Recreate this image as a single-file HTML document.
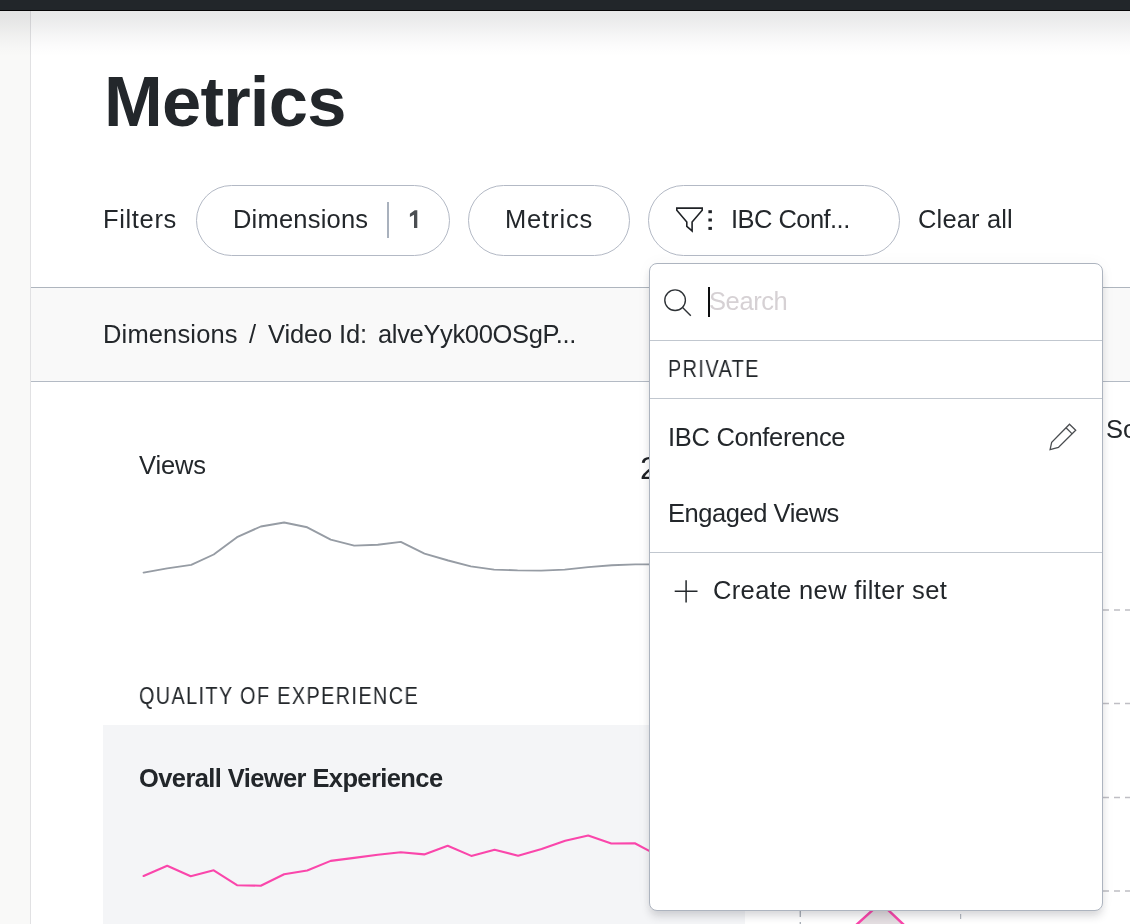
<!DOCTYPE html>
<html lang="en">
<head>
<meta charset="utf-8">
<title>Metrics</title>
<style>
  html, body { margin: 0; padding: 0; }
  html { overflow: hidden; background: #ffffff; }
  body {
    width: 1130px; height: 924px; overflow: hidden; position: relative;
    background: #ffffff;
    font-family: "Liberation Sans", sans-serif;
    color: #23272b;
  }
  .abs { position: absolute; }
  .t { position: absolute; white-space: nowrap; line-height: 1; will-change: transform; -webkit-font-smoothing: antialiased; }

  /* chrome */
  #topbar { left: 0; top: 0; width: 1130px; height: 10px; background: #22262a; }
  #topline { left: 0; top: 10px; width: 1130px; height: 1px; background: #050506; }
  #topshadow { left: 0; top: 11px; width: 1130px; height: 46px;
    background: linear-gradient(to bottom, rgba(10,14,20,0.095) 0%, rgba(10,14,20,0.088) 14%, rgba(10,14,20,0.062) 34%, rgba(10,14,20,0.034) 55%, rgba(10,14,20,0.012) 78%, rgba(10,14,20,0) 100%); }
  #gutter { left: 0; top: 11px; width: 30px; height: 913px; background: #f9f9f8; border-right: 1px solid #e1e1e3; }

  /* title */
  #title { font-weight: bold; color: #23272b; }

  /* filter row */
  .pill { position: absolute; top: 185px; height: 69px; border: 1px solid #b3b9c5; border-radius: 36px; background: #fff; }
  #pill1 { left: 196px; width: 252px; }
  #pill2 { left: 468px; width: 160px; }
  #pill3 { left: 648px; width: 250px; }
  .f25 { font-size: 25px; }
  #divider { left: 387px; top: 202px; width: 2px; height: 36px; background: #a9b1bd; }

  /* band */
  #band { left: 31px; top: 287px; width: 1099px; height: 93px; background: #f9f9f9;
    border-top: 1px solid #aeb5be; border-bottom: 1px solid #b3bac4; }

  /* QoE card */
  #card { left: 103px; top: 725px; width: 642px; height: 199px; background: #f4f5f7; }

  /* dropdown */
  #dd { left: 649px; top: 263px; width: 454px; height: 648px; background: #fff;
    border: 1px solid #adb4bf; border-radius: 8px; box-sizing: border-box;
    box-shadow: 0 6px 9px -1px rgba(30,32,40,0.17), 0 0 16px rgba(30,35,45,0.035); }
  .ddline { position: absolute; left: 650px; width: 452px; height: 1px; background: #c1c7cf; }
</style>
</head>
<body>

<!-- right-hand panel behind dropdown -->
<div class="abs" id="band"></div>

<div class="abs" id="gutter"></div>
<div class="abs" id="topshadow"></div>
<div class="abs" id="topbar"></div>
<div class="abs" id="topline"></div>

<div class="t" id="title" style="left:103.6px; top:67.4px; font-size:70.5px; letter-spacing:-0.75px;">Metrics</div>

<!-- filters row -->
<div class="t f25" id="lblFilters" style="left:102.9px; top:207.2px; font-size:25.5px; letter-spacing:0.65px;">Filters</div>
<div class="pill" id="pill1"></div>
<div class="t f25" id="lblDim" style="left:233.4px; top:207.2px; font-size:25.5px; letter-spacing:0.20px;">Dimensions</div>
<div class="abs" id="divider"></div>
<svg class="abs" id="lblOne" style="left:405px; top:205px;" width="18" height="28" viewBox="405 205 18 28"><path d="M417.3 210.2 L417.3 227.9 L414.0 227.9 L414.0 214.7 L409.9 217.1 L409.9 213.8 L414.7 210.2 Z" fill="#4b4e52"/></svg>
<div class="pill" id="pill2"></div>
<div class="t f25" id="lblMet" style="left:505.2px; top:207.2px; font-size:25.5px; letter-spacing:0.85px;">Metrics</div>
<div class="pill" id="pill3"></div>
<svg class="abs" id="funnel" style="left:670px; top:200px;" width="50" height="40" viewBox="670 200 50 40">
  <path d="M676.8 208.1 L702.2 208.1 L702.2 210.2 L692.1 221.95 L692.1 230.9 L686.8 226.3 L686.8 221.95 L676.8 210.2 Z"
        fill="none" stroke="#1f2226" stroke-width="1.6" stroke-linejoin="miter"/>
  <rect x="708.4" y="210.2" width="3.5" height="3" fill="#1f2226"/>
  <rect x="708.4" y="218.5" width="3.5" height="3" fill="#1f2226"/>
  <rect x="708.4" y="226.9" width="3.5" height="3" fill="#1f2226"/>
</svg>
<div class="t f25" id="lblIbc" style="left:731.0px; top:207.2px; font-size:25.5px; letter-spacing:-0.55px;">IBC Conf...</div>
<div class="t f25" id="lblClear" style="left:918.4px; top:207.2px; font-size:25.5px; letter-spacing:0.15px;">Clear all</div>

<!-- breadcrumb -->
<div class="t" id="bc1" style="left:102.9px; top:322.4px; font-size:25.5px; letter-spacing:0.15px;">Dimensions</div>
<div class="t" id="bc2" style="left:249.3px; top:322.4px; font-size:25.5px; letter-spacing:0.00px;">/</div>
<div class="t" id="bc3" style="left:268.4px; top:322.4px; font-size:25.5px; letter-spacing:-0.15px;">Video Id:</div>
<div class="t" id="bc4" style="left:377.8px; top:322.4px; font-size:25.5px; letter-spacing:-0.35px;">alveYyk00OSgP...</div>

<!-- views -->
<div class="t" id="lblViews" style="left:139.2px; top:453.1px; font-size:25.5px; letter-spacing:-0.15px;">Views</div>
<div class="t" id="lblTwo" style="left:640.2px; top:451.9px; font-size:32px; color:#1d2024; letter-spacing:0.00px;">2</div>
<svg class="abs" style="left:130px; top:510px;" width="530" height="75" viewBox="130 510 530 75">
  <polyline fill="none" stroke="#969ca4" stroke-width="1.9" stroke-linejoin="round" stroke-linecap="round"
    points="143.6,572.6 167.2,568.4 191.2,564.9 213.7,554.5 237.0,537.2 260.8,526.5 284.1,522.5 307.2,527.3 330.7,539.6 354.2,545.6 377.8,544.8 400.8,541.9 424.5,553.6 448.2,560.5 470.8,566.4 494.1,569.6 517.6,570.4 541.1,570.6 564.7,569.6 588.2,567.1 611.8,565.2 635.3,564.4 652,564.4"/>
</svg>

<!-- QoE -->
<div class="t" id="lblQoe" style="left:139px; top:684.5px; font-size:23px; letter-spacing:1.65px; transform:scaleX(0.86); transform-origin:0 0;">QUALITY OF EXPERIENCE</div>
<div class="abs" id="card"></div>
<div class="t" id="lblOve" style="left:138.6px; top:766.1px; font-size:25.5px; font-weight:bold; color:#22262a; letter-spacing:-0.60px;">Overall Viewer Experience</div>
<svg class="abs" style="left:130px; top:825px;" width="530" height="75" viewBox="130 825 530 75">
  <polyline fill="none" stroke="#fa46ab" stroke-width="2.1" stroke-linejoin="round" stroke-linecap="round"
    points="143.6,876.0 167.2,865.8 190.7,876.2 213.7,870.3 237.0,885.2 260.8,885.7 284.1,874.3 307.2,870.5 330.7,860.9 354.2,857.9 377.8,854.7 400.8,852.2 424.2,854.4 447.7,845.8 471.3,855.9 494.6,849.7 518.1,855.7 541.6,849.0 565.2,840.8 588.2,835.6 611.3,843.5 634.8,843.3 652,852.4"/>
</svg>

<!-- right panel bits visible beside/below dropdown -->
<div class="t" id="lblSo" style="left:1105.6px; top:417.0px; font-size:25.5px; letter-spacing:0.00px;">So</div>
<svg class="abs" style="left:740px; top:590px;" width="390" height="334" viewBox="740 590 390 334">
  <g stroke="#bfbec4" stroke-width="1.3" stroke-dasharray="6 5" fill="none">
    <line x1="1103" y1="610" x2="1130" y2="610"/>
    <line x1="1103" y1="703.5" x2="1130" y2="703.5"/>
    <line x1="1103" y1="797.5" x2="1130" y2="797.5"/>
    <line x1="1103" y1="891" x2="1130" y2="891"/>
  </g>
  <line x1="800.3" y1="911" x2="800.3" y2="924" stroke="#aab0b8" stroke-width="1.4" stroke-dasharray="6 5"/>
  <line x1="960.6" y1="914" x2="960.6" y2="919" stroke="#b4b9c0" stroke-width="1.2"/>
  <path d="M857 924 L880.6 903.5 L903 924 Z" fill="#e4dee1" stroke="none"/>
  <path d="M856.2 925 L880.6 902.9 L904 925" fill="none" stroke="#fa46ab" stroke-width="2.5"/>
</svg>

<!-- dropdown -->
<div class="abs" id="dd"></div>
<div class="ddline" style="top:340px;"></div>
<div class="ddline" style="top:398px;"></div>
<div class="ddline" style="top:552px;"></div>

<svg class="abs" style="left:660px; top:284px;" width="36" height="36" viewBox="660 284 36 36">
  <circle cx="675.1" cy="300.2" r="10.3" fill="none" stroke="#2d3135" stroke-width="1.4"/>
  <line x1="682.6" y1="307.6" x2="690.8" y2="315.8" stroke="#2d3135" stroke-width="1.4"/>
</svg>
<div class="abs" id="caret" style="left:708px; top:287px; width:2px; height:30px; background:#0c0d0e;"></div>
<div class="t" id="lblSearch" style="left:709.3px; top:289.4px; font-size:25.5px; color:#d6d1d4; letter-spacing:-0.40px;">Search</div>

<div class="t" id="lblPriv" style="left:668px; top:357.9px; font-size:23px; letter-spacing:1.70px; transform:scaleX(0.86); transform-origin:0 0;">PRIVATE</div>
<div class="t" id="lblIbcConf" style="left:667.7px; top:424.5px; font-size:25.5px; letter-spacing:-0.30px;">IBC Conference</div>
<svg class="abs" style="left:1044px; top:418px;" width="38" height="38" viewBox="1044 418 38 38">
  <path d="M1069.5 424.25 L1075.7 430.3 L1058.4 447.4 L1050.1 449.65 L1051.7 442.2 Z" fill="none" stroke="#4a4d50" stroke-width="1.3" stroke-linejoin="miter"/>
  <path d="M1066.0 427.8 L1072.2 433.85" fill="none" stroke="#4a4d50" stroke-width="1.3"/>
</svg>
<div class="t" id="lblEng" style="left:667.7px; top:501.0px; font-size:25.5px; letter-spacing:-0.45px;">Engaged Views</div>
<svg class="abs" style="left:670px; top:576px;" width="32" height="32" viewBox="670 576 32 32">
  <path d="M674.7 591.3 H697.5 M686.1 580.2 V602.5" fill="none" stroke="#24282c" stroke-width="1.5"/>
</svg>
<div class="t" id="lblCreate" style="left:712.8px; top:578.2px; font-size:25.5px; letter-spacing:0.35px;">Create new filter set</div>

</body>
</html>
